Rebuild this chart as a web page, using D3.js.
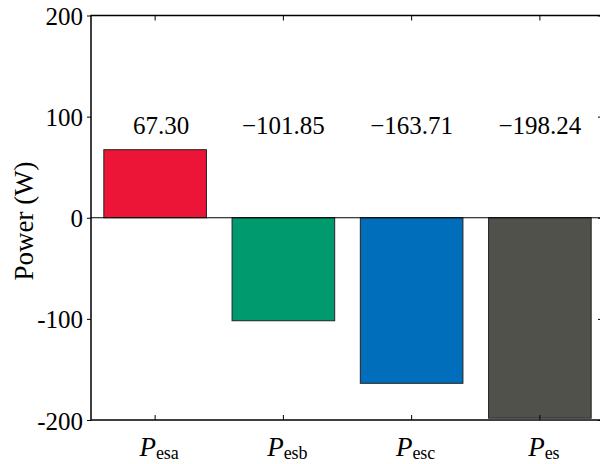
<!DOCTYPE html>
<html>
<head>
<meta charset="utf-8">
<script src="https://cdn.jsdelivr.net/npm/d3@7"></script>
<style>
  body { margin: 0; background: #fff; }
  svg text { font-family: "Liberation Serif"; fill: #000; }
</style>
</head>
<body>
<div class="chart"></div>
<script>
// chart data
var categories = ["esa", "esb", "esc", "es"];
var values = [67.30, -101.85, -163.71, -198.24];
var valueLabels = ["67.30", "\u2212101.85", "\u2212163.71", "\u2212198.24"];
var barColors = ["#ec1437", "#009a6f", "#006eba", "#50514b"];
var yTicks = [-200, -100, 0, 100, 200];
var yTickLabels = ["-200", "-100", "0", "100", "200"];

var svgWidth = 600;
var svgHeight = 464;
var margin = { top: 15.5, right: -4, bottom: 44, left: 91 };
var width = svgWidth - margin.left - margin.right;
var height = svgHeight - margin.top - margin.bottom;

var svg = d3.select(".chart")
  .append("svg")
  .attr("width", svgWidth)
  .attr("height", svgHeight);

var chart = svg.append("g")
  .attr("transform", `translate(${margin.left}, ${margin.top})`);

var xScale = d3.scaleBand()
  .domain(categories)
  .range([0, width])
  .paddingInner(0.2)
  .paddingOuter(0.1);

var yScale = d3.scaleLinear()
  .domain([-200, 200])
  .range([height, 0]);

// bars
chart.selectAll("rect.bar")
  .data(values)
  .enter().append("rect")
  .attr("class", "bar")
  .attr("x", function(d, i) { return xScale(categories[i]); })
  .attr("width", xScale.bandwidth())
  .attr("y", function(d) { return yScale(Math.max(0, d)); })
  .attr("height", function(d) { return Math.abs(yScale(d) - yScale(0)); })
  .attr("fill", function(d, i) { return barColors[i]; })
  .attr("stroke", "#222")
  .attr("stroke-width", 1);

// zero line
chart.append("line")
  .attr("x1", 0).attr("x2", width)
  .attr("y1", yScale(0)).attr("y2", yScale(0))
  .attr("stroke", "#000").attr("stroke-width", 1.2);

// value labels
chart.selectAll("text.val")
  .data(valueLabels)
  .enter().append("text")
  .attr("class", "val")
  .attr("x", function(d, i) { return xScale(categories[i]) + xScale.bandwidth() / 2 + (i === 0 ? 6 : 0); })
  .attr("y", yScale(100) + 17.5)
  .attr("text-anchor", "middle")
  .style("font-size", "25px")
  .text(function(d) { return d; });

// left axis with labels
var leftAxis = d3.axisLeft(yScale)
  .tickValues(yTicks)
  .tickSize(4)
  .tickPadding(4)
  .tickFormat(function(d, i) { return yTickLabels[i]; });

var yAxisG = chart.append("g").call(leftAxis);
yAxisG.select(".domain").remove();
yAxisG.selectAll("line").attr("stroke", "#000");
yAxisG.selectAll("text").style("font-size", "25px").attr("dy", "0.36em");

// inner ticks on right, bottom, top
var rightAxis = d3.axisLeft(yScale).tickValues(yTicks).tickSize(6).tickFormat("");
var rAxisG = chart.append("g").attr("transform", `translate(${width}, 0)`).call(rightAxis);
rAxisG.select(".domain").remove();
rAxisG.selectAll("line").attr("stroke", "#000");

var bottomAxis = d3.axisTop(xScale).tickSize(5).tickFormat("");
var xAxisG = chart.append("g").attr("transform", `translate(0, ${height})`).call(bottomAxis);
xAxisG.select(".domain").remove();
xAxisG.selectAll("line").attr("stroke", "#000");

var topAxis = d3.axisBottom(xScale).tickSize(5).tickFormat("");
var tAxisG = chart.append("g").call(topAxis);
tAxisG.select(".domain").remove();
tAxisG.selectAll("line").attr("stroke", "#000");

// frame
chart.append("rect")
  .attr("x", 0).attr("y", 0)
  .attr("width", width).attr("height", height)
  .attr("fill", "none")
  .attr("stroke", "#000")
  .attr("stroke-width", 1.5);

// x labels
var xl = chart.selectAll("text.xl")
  .data(categories)
  .enter().append("text")
  .attr("class", "xl")
  .attr("x", function(d) { return xScale(d) + xScale.bandwidth() / 2 + 4; })
  .attr("y", height + 36)
  .attr("text-anchor", "middle");
xl.append("tspan")
  .style("font-style", "italic")
  .style("font-size", "27px")
  .text("P");
xl.append("tspan")
  .attr("dy", 3)
  .style("font-size", "18px")
  .text(function(d) { return d; });

// y label
svg.append("text")
  .attr("transform", "translate(33, 221) rotate(-90)")
  .attr("text-anchor", "middle")
  .style("font-size", "27px")
  .text("Power (W)");
</script>
</body>
</html>
